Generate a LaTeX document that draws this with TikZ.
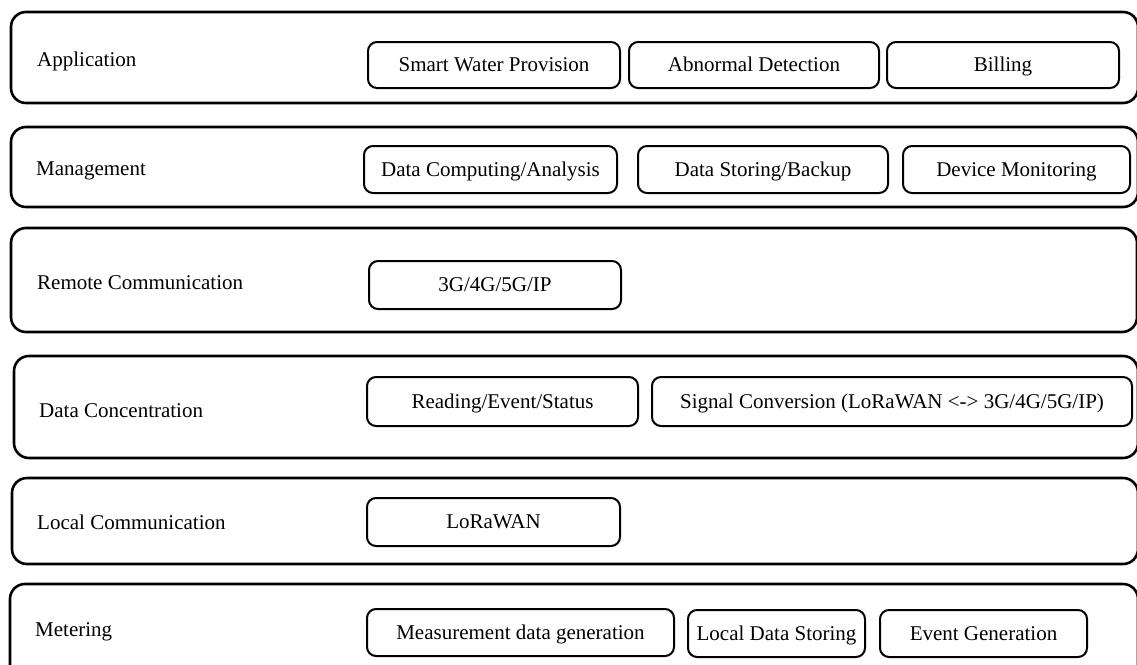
\documentclass[tikz,border=0pt]{standalone}
\usepackage{fontspec}
\setmainfont{Liberation Serif}
\begin{document}
\begin{tikzpicture}[x=1pt,y=-1pt,
  every node/.style={font=\fontsize{21}{25}\selectfont},
  layer/.style={draw, rounded corners=15pt, line width=2.6pt, inner sep=0pt},
  cell/.style={draw, rounded corners=9pt, line width=2pt, inner sep=0pt, align=center, text height=15pt, text depth=1.6pt},
  lab/.style={anchor=base west, inner sep=0pt}]
\useasboundingbox (0,0) rectangle (1137,664);
% layers
\node[layer, minimum width=1127pt, minimum height=91pt] (appL) at (574.5,57.5) {};
\node[layer, minimum width=1127pt, minimum height=80pt] (mgmL) at (574.5,167) {};
\node[layer, minimum width=1126pt, minimum height=104pt] (remL) at (574,280) {};
\node[layer, minimum width=1124pt, minimum height=102pt] (conL) at (576,407) {};
\node[layer, minimum width=1126pt, minimum height=86pt] (locL) at (575,521) {};
\node[layer, minimum width=1128pt, minimum height=116pt] (metL) at (574,642) {};
% labels
\node[lab] (appT) at (37,66.5) {Application};
\node[lab] (mgmT) at (36,175) {Management};
\node[lab] (remT) at (37,289) {Remote Communication};
\node[lab] (conT) at (39,417) {Data Concentration};
\node[lab] (locT) at (37,529) {Local Communication};
\node[lab] (metT) at (35,636) {Metering};
% application
\node[cell, minimum width=252pt, minimum height=46pt] (swp) at (494,65) {Smart Water Provision};
\node[cell, minimum width=250pt, minimum height=46pt] (abd) at (754,65) {Abnormal Detection};
\node[cell, minimum width=232pt, minimum height=46pt] (bil) at (1003,65) {Billing};
% management
\node[cell, minimum width=253pt, minimum height=47pt] (dca) at (490.5,169.5) {Data Computing/Analysis};
\node[cell, minimum width=250pt, minimum height=47pt] (dsb) at (763,169.5) {Data Storing/Backup};
\node[cell, minimum width=227pt, minimum height=47pt] (dmo) at (1016.5,169.5) {Device Monitoring};
% remote
\node[cell, minimum width=252pt, minimum height=48pt] (g45) at (495,285) {3G/4G/5G/IP};
% concentration
\node[cell, minimum width=271pt, minimum height=49pt] (res) at (502.5,401.5) {Reading/Event/Status};
\node[cell, minimum width=480pt, minimum height=49pt] (sig) at (892,401.5) {Signal Conversion (LoRaWAN <-> 3G/4G/5G/IP)};
% local
\node[cell, minimum width=253pt, minimum height=48pt] (lora) at (493.5,522) {LoRaWAN};
% metering
\node[cell, minimum width=307pt, minimum height=47pt] (mdg) at (520.5,632.5) {Measurement data generation};
\node[cell, minimum width=177pt, minimum height=47pt] (lds) at (776.5,633.5) {Local Data Storing};
\node[cell, minimum width=207pt, minimum height=47pt] (evg) at (983.5,633.5) {Event Generation};
\end{tikzpicture}
\end{document}
